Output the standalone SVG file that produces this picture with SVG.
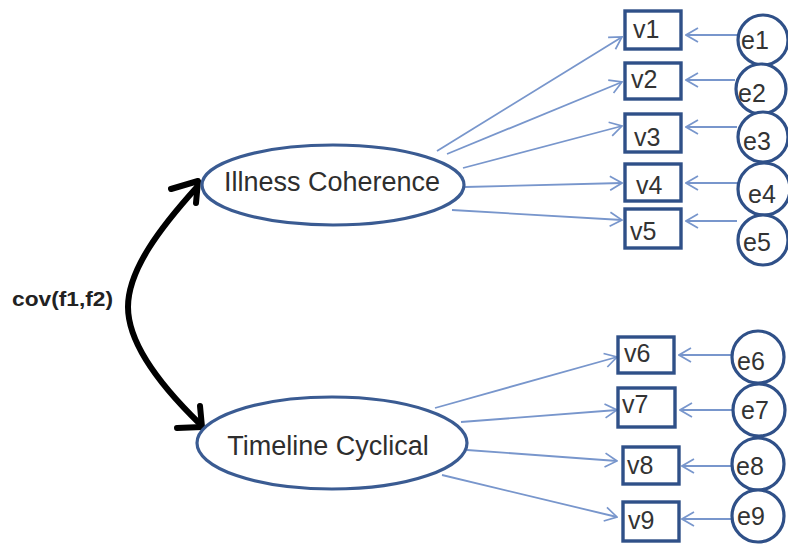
<svg xmlns="http://www.w3.org/2000/svg" width="788" height="546" viewBox="0 0 788 546">
<defs>
<marker id="arr" viewBox="0 0 14 16" refX="13" refY="8" markerWidth="14" markerHeight="16" orient="auto" markerUnits="userSpaceOnUse">
<path d="M1,1 L13,8 L1,15" fill="none" stroke="#7896cc" stroke-width="1.7"/>
</marker>
</defs>
<style>
.box{fill:#fff;stroke:#2f5088;stroke-width:3.4}
.err{fill:#fff;stroke:#2f5088;stroke-width:3.2}
.lat{fill:#fff;stroke:#3a5b92;stroke-width:3.2}
.lbl{font-family:"Liberation Sans",Arial,sans-serif;font-size:25px;fill:#333}
.big{font-family:"Liberation Sans",Arial,sans-serif;font-size:27px;fill:#2e2e2e;text-anchor:middle}
.cov{font-family:"Liberation Sans",Arial,sans-serif;font-size:21px;font-weight:bold;fill:#222}
.ln{stroke:#7896cc;stroke-width:1.8;fill:none;marker-end:url(#arr)}
.blk{stroke:#000;stroke-width:6;fill:none;stroke-linecap:round;stroke-linejoin:round}
</style>
<rect width="788" height="546" fill="#fff"/>
<g id="connectors">
<line class="ln" x1="437" y1="151" x2="622" y2="37"/>
<line class="ln" x1="447" y1="154" x2="622" y2="82"/>
<line class="ln" x1="463" y1="168" x2="622" y2="126"/>
<line class="ln" x1="465" y1="187" x2="622" y2="183"/>
<line class="ln" x1="452" y1="210" x2="622" y2="220"/>
<line class="ln" x1="435" y1="408" x2="617" y2="357"/>
<line class="ln" x1="461" y1="422" x2="617" y2="410"/>
<line class="ln" x1="467" y1="450" x2="617" y2="461"/>
<line class="ln" x1="442" y1="475" x2="617" y2="517"/>
<line class="ln" x1="738" y1="35" x2="686" y2="35"/>
<line class="ln" x1="735" y1="80" x2="686" y2="80"/>
<line class="ln" x1="737" y1="127" x2="686" y2="127"/>
<line class="ln" x1="738" y1="183" x2="686" y2="183"/>
<line class="ln" x1="737" y1="221" x2="686" y2="221"/>
<line class="ln" x1="732" y1="355" x2="679" y2="355"/>
<line class="ln" x1="732" y1="410" x2="680" y2="410"/>
<line class="ln" x1="731" y1="466" x2="682" y2="466"/>
<line class="ln" x1="731" y1="519" x2="682" y2="519"/>
<path class="blk" d="M197,187 C160,228 128,270 128,307 C128,345 165,390 200,424"/>
<polyline class="blk" points="171,189 198,181 196,203"/>
<polyline class="blk" points="177,428 202,427 200,406"/>
</g>
<text class="cov" x="12" y="306" textLength="101" lengthAdjust="spacingAndGlyphs">cov(f1,f2)</text>
<g id="f1"><ellipse class="lat" cx="333" cy="185" rx="131" ry="40"/><text class="big" x="332" y="191">Illness Coherence</text></g>
<g id="f2"><ellipse class="lat" cx="332" cy="443" rx="135" ry="46"/><text class="big" x="328" y="455">Timeline Cyclical</text></g>
<g id="v1"><rect class="box" x="625" y="11" width="56" height="38"/><text class="lbl" x="633" y="38">v1</text></g>
<g id="v2"><rect class="box" x="625" y="63" width="56" height="36"/><text class="lbl" x="631" y="88">v2</text></g>
<g id="v3"><rect class="box" x="625" y="114" width="56" height="38"/><text class="lbl" x="634" y="146">v3</text></g>
<g id="v4"><rect class="box" x="625" y="164" width="56" height="37"/><text class="lbl" x="636" y="194">v4</text></g>
<g id="v5"><rect class="box" x="625" y="209" width="56" height="39"/><text class="lbl" x="630" y="240">v5</text></g>
<g id="v6"><rect class="box" x="618" y="337" width="56" height="36"/><text class="lbl" x="624" y="362">v6</text></g>
<g id="v7"><rect class="box" x="618" y="388" width="57" height="39"/><text class="lbl" x="622" y="413">v7</text></g>
<g id="v8"><rect class="box" x="623" y="447" width="56" height="37"/><text class="lbl" x="627" y="474">v8</text></g>
<g id="v9"><rect class="box" x="623" y="502" width="56" height="39"/><text class="lbl" x="628" y="529">v9</text></g>
<g id="e1"><circle class="err" cx="763" cy="40" r="25"/><text class="lbl" x="741" y="49">e1</text></g>
<g id="e2"><circle class="err" cx="761" cy="89" r="25"/><text class="lbl" x="738" y="102">e2</text></g>
<g id="e3"><circle class="err" cx="763" cy="137" r="25"/><text class="lbl" x="743" y="150">e3</text></g>
<g id="e4"><circle class="err" cx="764" cy="189" r="26"/><text class="lbl" x="748" y="203">e4</text></g>
<g id="e5"><circle class="err" cx="763" cy="240" r="25"/><text class="lbl" x="743" y="251">e5</text></g>
<g id="e6"><circle class="err" cx="758" cy="357" r="26"/><text class="lbl" x="737" y="370">e6</text></g>
<g id="e7"><circle class="err" cx="759" cy="410" r="26"/><text class="lbl" x="741" y="419">e7</text></g>
<g id="e8"><circle class="err" cx="758" cy="464" r="26"/><text class="lbl" x="736" y="475">e8</text></g>
<g id="e9"><circle class="err" cx="758" cy="516" r="26"/><text class="lbl" x="737" y="525">e9</text></g>
</svg>
